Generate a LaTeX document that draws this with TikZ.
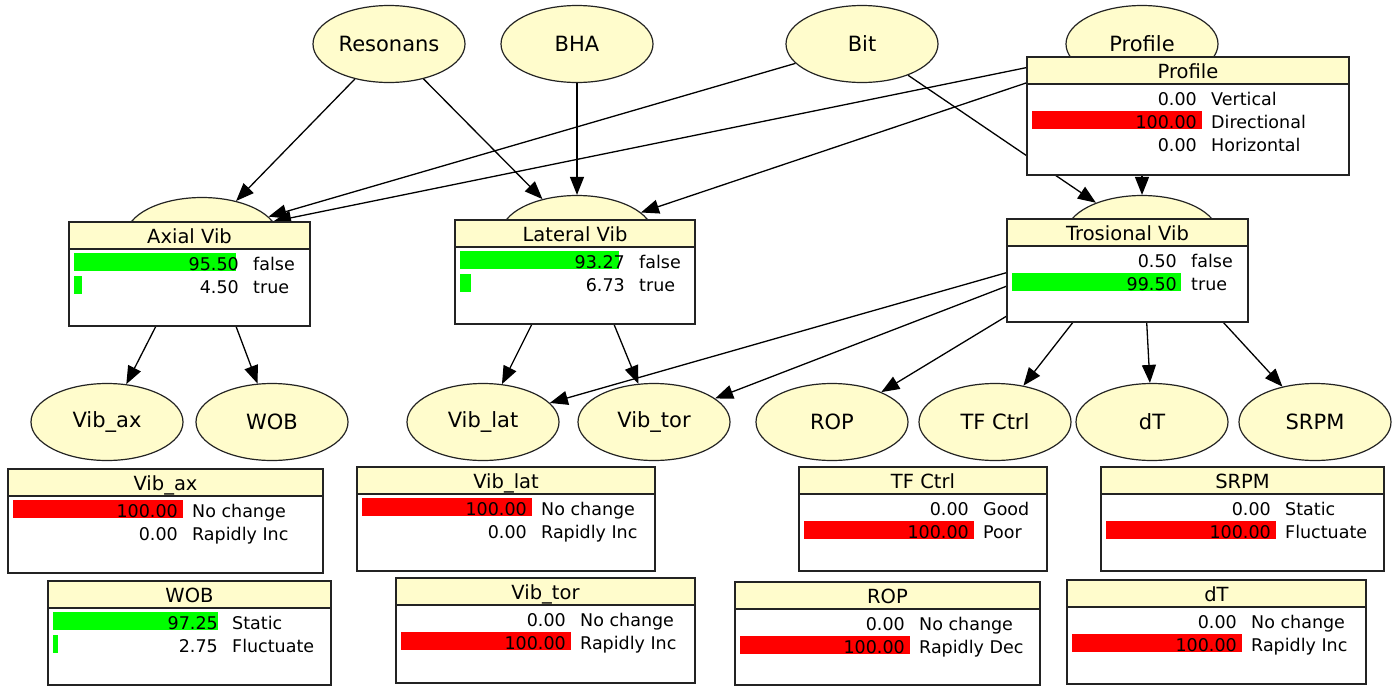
\documentclass[tikz,border=0pt]{standalone}
\usepackage{fontspec}
\setmainfont{DejaVu Sans}
\usetikzlibrary{arrows.meta,shapes.geometric}
\definecolor{nodeyel}{RGB}{255,252,204}
\definecolor{bargreen}{RGB}{0,255,0}
\definecolor{barred}{RGB}{255,0,0}
\definecolor{edgegray}{RGB}{35,35,35}
\tikzset{
  bnell/.style={ellipse, draw=edgegray, fill=nodeyel, line width=1.2pt, minimum width=152pt, minimum height=77pt, inner sep=0pt, font=\fontsize{21}{24}\selectfont},
  bnedge/.style={-{Triangle[length=18pt,width=14pt]}, line width=1.3pt, black},
  tabline/.style={draw=edgegray, line width=1.6pt},
  tabtitle/.style={anchor=base, inner sep=0pt, font=\fontsize{19.5}{22}\selectfont},
  rownum/.style={anchor=base east, inner sep=0pt, font=\fontsize{17.5}{20}\selectfont},
  rowlab/.style={anchor=base west, inner sep=0pt, font=\fontsize{17.5}{20}\selectfont}
}
% name, L, T, R, B, title
\newcommand{\bntable}[6]{%
  \fill[white] (#2,#3) rectangle (#4,#5);
  \fill[nodeyel] (#2,#3) rectangle (#4,{#3+27});
  \draw[tabline] (#2,{#3+27}) -- (#4,{#3+27});
  \draw[tabline] (#2,#3) rectangle (#4,#5);
  \node[tabtitle] (#1) at ({(#2+#4)/2},{#3+21}) {#6};
}
% name, L, T, k, pct, color, number, label
\newcommand{\bnrow}[8]{%
  \pgfmathsetmacro{\rowtop}{#3+31+23*#4}
  \pgfmathsetmacro{\rowbase}{#3+48+23*#4}
  \pgfmathsetmacro{\barend}{#2+5+1.7*#5}
  \ifdim #5pt>1pt \fill[#6] ({#2+5},\rowtop) rectangle (\barend,{\rowtop+18});\fi
  \node[rownum] (#1-n) at ({#2+170},\rowbase) {#7};
  \node[rowlab] (#1-l) at ({#2+184},\rowbase) {#8};
}
\begin{document}
\begin{tikzpicture}[x=1pt,y=-1pt]
\useasboundingbox (0,0) rectangle (1393,686);
\fill[white] (0,0) rectangle (1393,686);

% ellipses
\node[bnell] (res) at (389,44) {Resonans};
\node[bnell] (bha) at (577,44) {BHA};
\node[bnell] (bit) at (862,44) {Bit};
\node[bnell] (prof) at (1142,44) {Profile};
\node[bnell] (axial) at (202,236) {};
\node[bnell] (lateral) at (577,234) {};
\node[bnell] (tors) at (1142,234) {};
\node[bnell] (vibax) at (107,422) {Vib\_ax};
\node[bnell] (wob) at (272,422) {WOB};
\node[bnell] (viblat) at (483,422) {Vib\_lat};
\node[bnell] (vibtor) at (654,422) {Vib\_tor};
\node[bnell] (rop) at (832,422) {ROP};
\node[bnell] (tfc) at (995,422) {TF Ctrl};
\node[bnell] (dt) at (1152,422) {dT};
\node[bnell] (srpm) at (1315,422) {SRPM};

% edges
\draw[bnedge] (res) -- (axial);
\draw[bnedge] (res) -- (lateral);
\draw[bnedge] (bha) -- (lateral);
\draw[bnedge] (bit) -- (axial);
\draw[bnedge] (bit) -- (tors);
\draw[bnedge] (prof) -- (axial);
\draw[bnedge] (prof) -- (lateral);
\draw[bnedge] (prof) -- (tors);
\draw[bnedge] (axial) -- (vibax);
\draw[bnedge] (axial) -- (wob);
\draw[bnedge] (lateral) -- (viblat);
\draw[bnedge] (lateral) -- (vibtor);
\draw[bnedge] (tors) -- (viblat);
\draw[bnedge] (tors) -- (vibtor);
\draw[bnedge] (tors) -- (rop);
\draw[bnedge] (tors) -- (tfc);
\draw[bnedge] (tors) -- (dt);
\draw[bnedge] (tors) -- (srpm);

% tables
\bntable{tprof}{1027}{57}{1349}{175}{Profile}
\bnrow{tprof1}{1027}{57}{0}{0}{barred}{0.00}{Vertical}
\bnrow{tprof2}{1027}{57}{1}{100}{barred}{100.00}{Directional}
\bnrow{tprof3}{1027}{57}{2}{0}{barred}{0.00}{Horizontal}

\bntable{taxial}{69}{222}{310}{326}{Axial Vib}
\bnrow{taxial1}{69}{222}{0}{95.50}{bargreen}{95.50}{false}
\bnrow{taxial2}{69}{222}{1}{4.50}{bargreen}{4.50}{true}

\bntable{tlat}{455}{220}{695}{324}{Lateral Vib}
\bnrow{tlat1}{455}{220}{0}{93.27}{bargreen}{93.27}{false}
\bnrow{tlat2}{455}{220}{1}{6.73}{bargreen}{6.73}{true}

\bntable{ttors}{1007}{219}{1248}{322}{Trosional Vib}
\bnrow{ttors1}{1007}{219}{0}{0.50}{bargreen}{0.50}{false}
\bnrow{ttors2}{1007}{219}{1}{99.50}{bargreen}{99.50}{true}

\bntable{tvibax}{8}{469}{323}{573}{Vib\_ax}
\bnrow{tvibax1}{8}{469}{0}{100}{barred}{100.00}{No change}
\bnrow{tvibax2}{8}{469}{1}{0}{barred}{0.00}{Rapidly Inc}

\bntable{twob}{48}{581}{331}{685}{WOB}
\bnrow{twob1}{48}{581}{0}{97.25}{bargreen}{97.25}{Static}
\bnrow{twob2}{48}{581}{1}{2.75}{bargreen}{2.75}{Fluctuate}

\bntable{tviblat}{357}{467}{655}{571}{Vib\_lat}
\bnrow{tviblat1}{357}{467}{0}{100}{barred}{100.00}{No change}
\bnrow{tviblat2}{357}{467}{1}{0}{barred}{0.00}{Rapidly Inc}

\bntable{tvibtor}{396}{578}{695}{683}{Vib\_tor}
\bnrow{tvibtor1}{396}{578}{0}{0}{barred}{0.00}{No change}
\bnrow{tvibtor2}{396}{578}{1}{100}{barred}{100.00}{Rapidly Inc}

\bntable{ttfc}{799}{467}{1047}{571}{TF Ctrl}
\bnrow{ttfc1}{799}{467}{0}{0}{barred}{0.00}{Good}
\bnrow{ttfc2}{799}{467}{1}{100}{barred}{100.00}{Poor}

\bntable{tsrpm}{1101}{467}{1384}{571}{SRPM}
\bnrow{tsrpm1}{1101}{467}{0}{0}{barred}{0.00}{Static}
\bnrow{tsrpm2}{1101}{467}{1}{100}{barred}{100.00}{Fluctuate}

\bntable{trop}{735}{582}{1040}{685}{ROP}
\bnrow{trop1}{735}{582}{0}{0}{barred}{0.00}{No change}
\bnrow{trop2}{735}{582}{1}{100}{barred}{100.00}{Rapidly Dec}

\bntable{tdt}{1067}{580}{1366}{684}{dT}
\bnrow{tdt1}{1067}{580}{0}{0}{barred}{0.00}{No change}
\bnrow{tdt2}{1067}{580}{1}{100}{barred}{100.00}{Rapidly Inc}
\end{tikzpicture}
\end{document}
